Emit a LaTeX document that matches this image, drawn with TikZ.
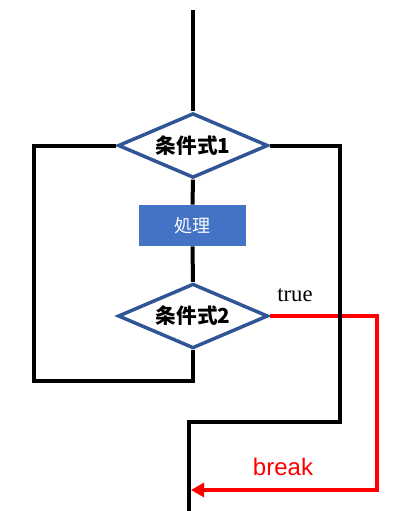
\documentclass[tikz,border=0pt]{standalone}
\usepackage{fontspec}
\setmainfont{Liberation Serif}
\newfontfamily\jpfont{Noto Sans CJK JP}
\newfontfamily\labelfont{Liberation Sans}
\usetikzlibrary{shapes.geometric, arrows.meta}

\begin{document}
\begin{tikzpicture}[x=0.75pt,y=0.75pt,yscale=-1,xscale=1,
  cond/.style={diamond, aspect=2.3, draw={rgb, 255:red, 47; green, 85; blue, 151}, line width=2.6pt, fill=white, inner sep=0pt, minimum width=112.5pt, minimum height=48.5pt, font=\jpfont\bfseries\fontsize{15.5}{18}\selectfont},
  proc/.style={fill={rgb, 255:red, 68; green, 114; blue, 196}, text=white, inner sep=0pt, minimum width=80.25pt, minimum height=31pt, font=\jpfont\fontsize{13.5}{16}\selectfont},
  flow/.style={line width=3pt},
  jump/.style={draw={rgb, 255:red, 255; green, 0; blue, 0}, line width=2.3pt}]
\useasboundingbox (0,0) rectangle (400,511);

% Text Node
\node[cond] (cond1) at (193,145.5) {条件式1};
% Text Node
\node[proc] (proc) at (192.5,225.5) {処理};
% Text Node
\node[cond] (cond2) at (193,316) {条件式2};
% Text Node
\node[font=\fontsize{17}{20}\selectfont] (truelbl) at (295,295) {true};
% Text Node
\node[text={rgb, 255:red, 255; green, 0; blue, 0}, font=\labelfont\fontsize{18}{21}\selectfont] (brklbl) at (283,467) {break};

\coordinate (entry) at (193,10);
\coordinate (loopL) at (34,381);
\coordinate (loopR) at (340,422);
\coordinate (exit) at (189,511);
\coordinate (jumpR) at (377,490);
\coordinate (jumpEnd) at (191,490);

% Connection
\draw[jump, -{Triangle[length=9.75pt, width=10.5pt]}] (cond2.east) -| (jumpR) -- (jumpEnd);
% Connection
\draw[flow] (entry) -- (cond1.north);
% Connection
\draw[flow] (cond1.south) -- (proc.north);
% Connection
\draw[flow] (proc.south) -- (cond2.north);
% Connection
\draw[flow] (cond1.west) -| (loopL) -| (cond2.south);
% Connection
\draw[flow] (cond1.east) -| (loopR) -| (exit);

\end{tikzpicture}
\end{document}
